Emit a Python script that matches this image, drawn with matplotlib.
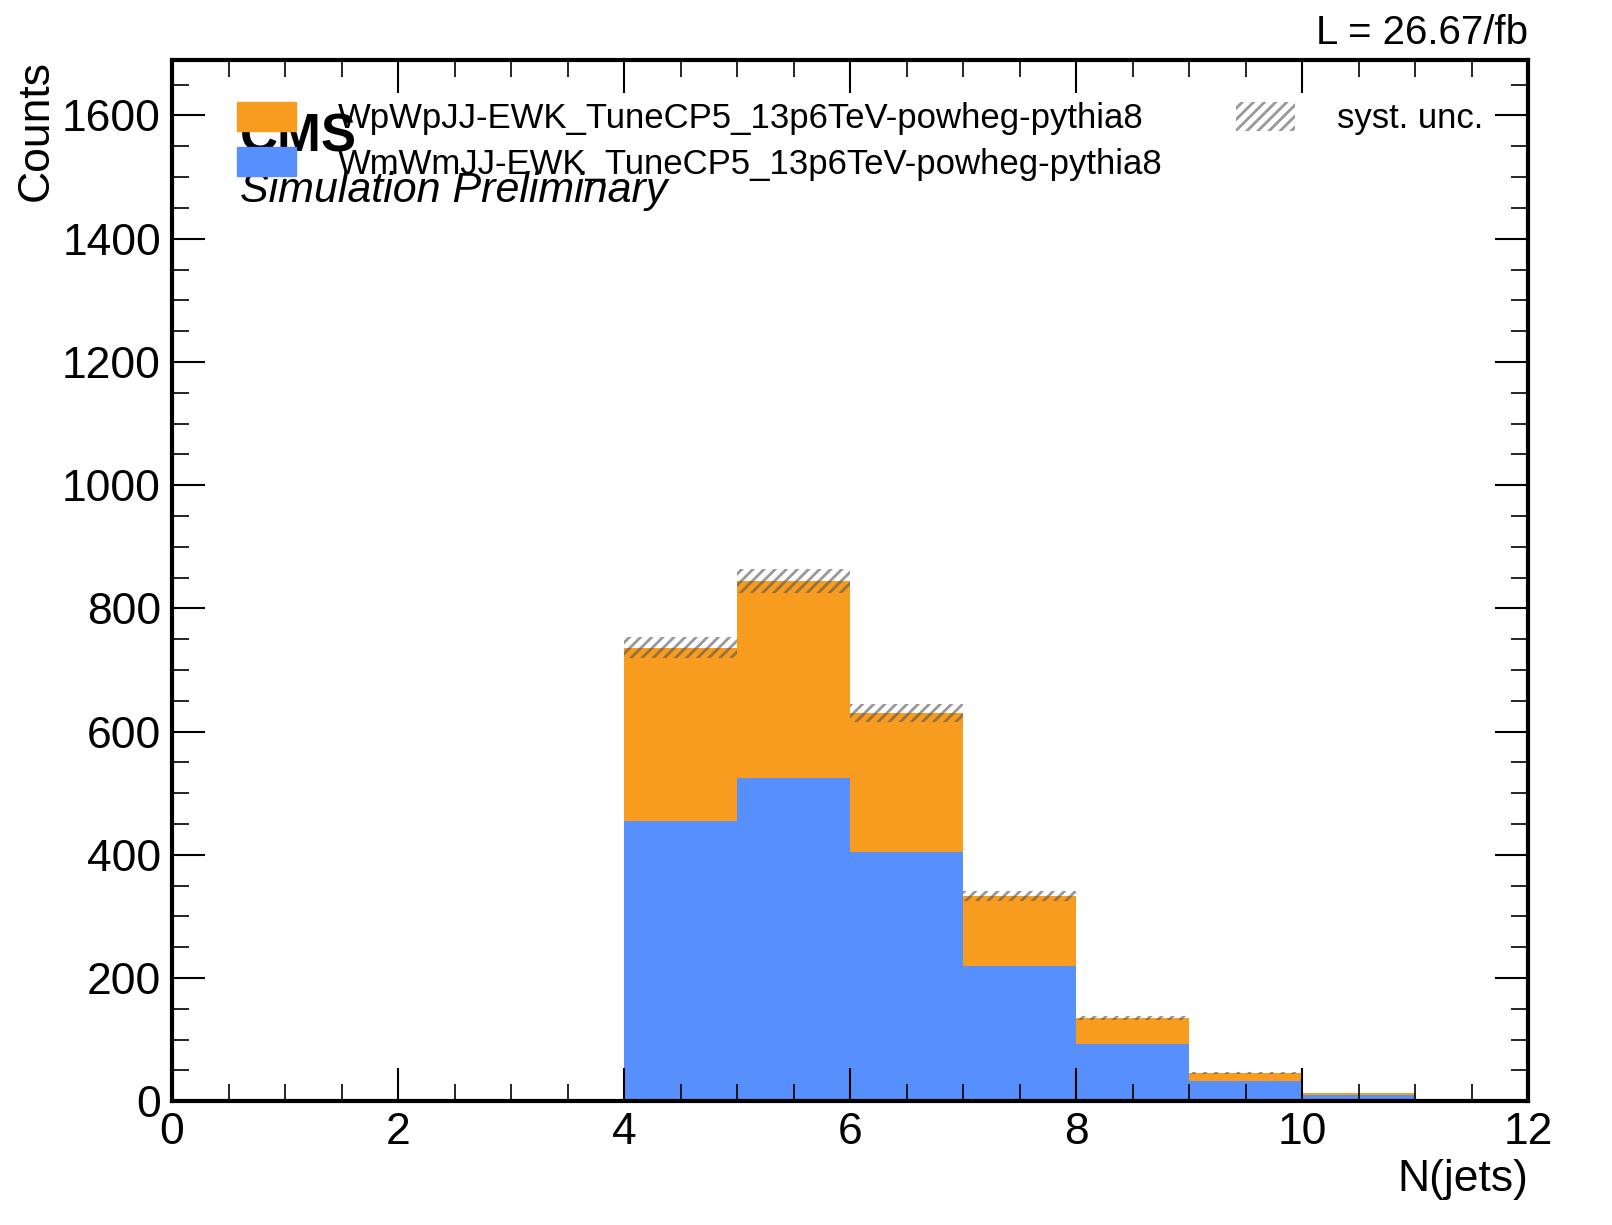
import numpy as np
import matplotlib
matplotlib.use("Agg")
import matplotlib.pyplot as plt
from matplotlib.ticker import MultipleLocator
from matplotlib.patches import Patch

plt.rcParams['font.family'] = ['Liberation Sans', 'DejaVu Sans']
plt.rcParams['hatch.linewidth'] = 2.0

# data
edges = np.arange(0, 13, 1)
wmwm = np.array([0, 0, 0, 0, 455, 525, 405, 220, 93, 33, 10, 2])
total = np.array([0, 0, 0, 0, 736, 845, 630, 333, 135, 46, 13, 3])
syst_frac = 0.023
labels = ['WpWpJJ-EWK_TuneCP5_13p6TeV-powheg-pythia8',
          'WmWmJJ-EWK_TuneCP5_13p6TeV-powheg-pythia8']
c_wp = '#f89c20'
c_wm = '#5790fc'

fig = plt.figure(figsize=(16.12, 12.25), dpi=100)
ax = fig.add_axes([0.1067, 0.101, 0.8413, 0.850])

ax.stairs(wmwm, edges, fill=True, color=c_wm, lw=0)
ax.stairs(total, edges, baseline=wmwm, fill=True, color=c_wp, lw=0)
ax.stairs(total * (1 + syst_frac), edges, baseline=total * (1 - syst_frac),
          fill=False, hatch='///', edgecolor='#555555', lw=0, alpha=0.6)

ax.set_xlim(0, 12)
ax.set_ylim(0, 1690)
ax.xaxis.set_major_locator(MultipleLocator(2))
ax.xaxis.set_minor_locator(MultipleLocator(0.5))
ax.yaxis.set_major_locator(MultipleLocator(200))
ax.yaxis.set_minor_locator(MultipleLocator(50))
ax.tick_params(which='both', direction='in', top=True, right=True, labelsize=32, pad=8)
ax.tick_params(which='major', length=24, width=1.5)
ax.tick_params(which='minor', length=12, width=1.2)
for s in ax.spines.values():
    s.set_linewidth(3)

ax.set_xlabel('N(jets)', fontsize=32, loc='right')
ax.set_ylabel('Counts', fontsize=32, loc='top')

handles = [Patch(color=c_wp), Patch(color=c_wm)]
leg1 = ax.legend(handles, labels, loc='upper left', bbox_to_anchor=(0.025, 0.99),
                 fontsize=25, frameon=False, handlelength=1.7, handleheight=0.9,
                 labelspacing=0.35, handletextpad=1.2)
ax.add_artist(leg1)
hp = Patch(facecolor='none', edgecolor='#555555', hatch='///', lw=0, alpha=0.6)
ax.legend([hp], ['syst. unc.'], loc='upper right', bbox_to_anchor=(0.99, 0.99),
          fontsize=25, frameon=False, handlelength=1.7, handleheight=0.9,
          handletextpad=1.2)

ax.text(0.05, 0.902, 'CMS', transform=ax.transAxes, fontsize=38,
        fontweight='bold', va='bottom')
ax.text(0.05, 0.855, 'Simulation Preliminary', transform=ax.transAxes,
        fontsize=31, style='italic', va='bottom')
ax.text(1.0, 1.008, 'L = 26.67/fb', transform=ax.transAxes, fontsize=29,
        ha='right', va='bottom')

fig.savefig('out.png', dpi=100)
